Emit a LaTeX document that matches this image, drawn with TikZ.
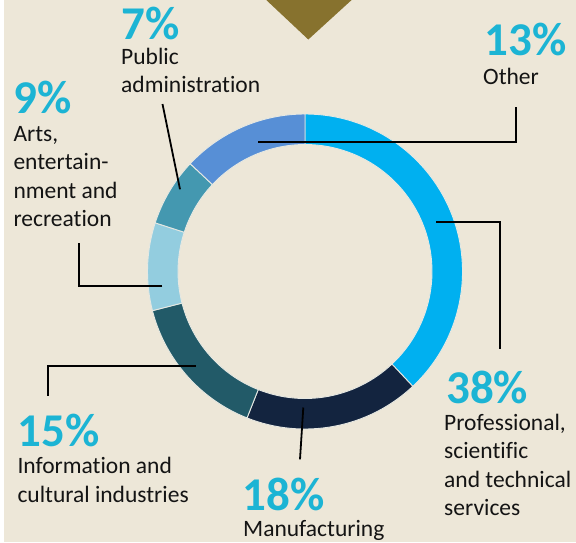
\documentclass[tikz,border=0pt]{standalone}
\usepackage{fontspec}
\setmainfont[Ligatures=NoCommon]{Carlito}
\definecolor{bg}{HTML}{EDE7D8}
\definecolor{tri}{HTML}{87722E}
\definecolor{pct}{HTML}{1CB4D4}
\definecolor{segline}{HTML}{E6E8E2}
\definecolor{cprof}{HTML}{00B0F0}
\definecolor{cmanu}{HTML}{13243F}
\definecolor{cinfo}{HTML}{225A68}
\definecolor{carts}{HTML}{93CDDF}
\definecolor{cpub}{HTML}{4498B0}
\definecolor{coth}{HTML}{578FD6}
\tikzset{
  pctlabel/.style={anchor=base west, inner sep=0pt, text=pct, font=\fontsize{47}{50}\selectfont\bfseries},
  txtlabel/.style={anchor=base west, inner sep=0pt, text=black!92, font=\fontsize{23.5}{28}\selectfont},
  leader/.style={draw=black, line width=1.8pt},
}
\newcommand\ringseg[3]{\fill[#3, draw=segline, line width=0.9pt] ([shift={(#1:157.5)}]ctr) arc[start angle=#1,end angle=#2,radius=157.5] -- ([shift={(#2:127)}]ctr) arc[start angle=#2,end angle=#1,radius=127] -- cycle;}
\begin{document}
\begin{tikzpicture}[x=1pt,y=-1pt]
\clip (0,0) rectangle (576,542);
\fill[bg] (0,0) rectangle (576,542);
\fill[white] (0,0) rectangle (4,542);
% top triangle
\fill[tri] (262,-4) -- (356,-4) -- (308.3,39.5) -- cycle;
% ring
\coordinate (ctr) at (305,271.5);
\ringseg{-90}{46.8}{cprof}
\ringseg{46.8}{111.6}{cmanu}
\ringseg{111.6}{165.6}{cinfo}
\ringseg{165.6}{198}{carts}
\ringseg{198}{223.2}{cpub}
\ringseg{223.2}{270}{coth}
% texts
\node[pctlabel] (p7) at (121,39.8) {7\%};
\node[txtlabel] (t7a) at (121,64.5) {Public};
\node[txtlabel] (t7b) at (121,92.5) {administration};
\node[pctlabel] (p13) at (484.5,55.7) {13\%};
\node[txtlabel] (t13) at (483,84) {Other};
\node[pctlabel] (p9) at (13.3,113) {9\%};
\node[txtlabel] (t9a) at (13.3,141) {Arts,};
\node[txtlabel] (t9b) at (13.3,169.5) {entertain-};
\node[txtlabel] (t9c) at (13.3,198) {nment and};
\node[txtlabel] (t9d) at (13.3,226.5) {recreation};
\node[pctlabel] (p15) at (17.5,446) {15\%};
\node[txtlabel] (t15a) at (17.3,473.5) {Information and};
\node[txtlabel] (t15b) at (17.3,502.5) {cultural industries};
\node[pctlabel] (p18) at (242.5,510.2) {18\%};
\node[txtlabel] (t18) at (243,536.5) {Manufacturing};
\node[pctlabel] (p38) at (446,403.3) {38\%};
\node[txtlabel] (t38a) at (444,430) {Professional,};
\node[txtlabel] (t38b) at (444,458.5) {scientific};
\node[txtlabel] (t38c) at (444,487) {and technical};
\node[txtlabel] (t38d) at (444,515) {services};
% connector end points
\coordinate (pubA) at (162.5,104);
\coordinate (pubB) at (180,189.3);
\coordinate (othA) at (258.3,141.7);
\coordinate (othK) at (516,141.7);
\coordinate (othB) at (516,107.3);
\coordinate (proA) at (436,222);
\coordinate (proK) at (500,222);
\coordinate (proB) at (500,349.3);
\coordinate (manA) at (303.3,407.5);
\coordinate (manB) at (300,459.3);
\coordinate (infA) at (195.7,365.7);
\coordinate (infK) at (48.3,365.7);
\coordinate (infB) at (48.3,396);
\coordinate (artA) at (162.3,285.7);
\coordinate (artK) at (79.3,285.7);
\coordinate (artB) at (79.3,243.3);
% connectors
\draw[leader] (pubA) -- (pubB);
\draw[leader] (othA) -- (othK) -- (othB);
\draw[leader] (proA) -- (proK) -- (proB);
\draw[leader] (manA) -- (manB);
\draw[leader] (infA) -- (infK) -- (infB);
\draw[leader] (artA) -- (artK) -- (artB);
\end{tikzpicture}
\end{document}
